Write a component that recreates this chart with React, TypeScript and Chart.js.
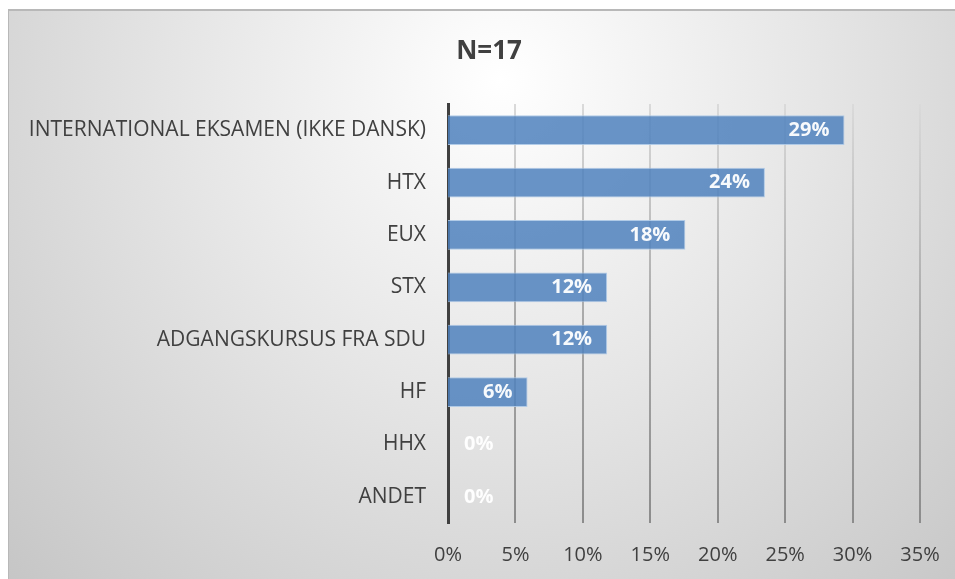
import React, { useEffect, useRef } from "react";
import { Chart, registerables } from "chart.js";

Chart.register(...registerables);

const categories = [
  "INTERNATIONAL EKSAMEN (IKKE DANSK)",
  "HTX",
  "EUX",
  "STX",
  "ADGANGSKURSUS FRA SDU",
  "HF",
  "HHX",
  "ANDET",
];
const values = [0.294, 0.235, 0.176, 0.118, 0.118, 0.059, 0, 0];
const valueLabels = ["29%", "24%", "18%", "12%", "12%", "6%", "0%", "0%"];
const titleText = "N=17";
const FONT = "'Open Sans', 'Noto Sans', sans-serif";

const labelPlugin = {
  id: "barLabels",
  afterDatasetsDraw(chart: any) {
    const ctx = chart.ctx;
    const meta = chart.getDatasetMeta(0);
    const base = chart.scales.x.getPixelForValue(0);
    ctx.save();
    ctx.font = `bold 20px ${FONT}`;
    ctx.textBaseline = "middle";
    ctx.textAlign = "left";
    meta.data.forEach((bar: any, i: number) => {
      const txt = valueLabels[i];
      const w = ctx.measureText(txt).width;
      let left = bar.x - 15 - w;
      if (left < base + 16) left = base + 16;
      ctx.fillStyle = "rgba(255,255,255,0.95)";
      ctx.fillText(txt, left, bar.y);
    });
    ctx.restore();
  },
};

const titlePlugin = {
  id: "customTitle",
  afterDraw(chart: any) {
    const ctx = chart.ctx;
    ctx.save();
    ctx.font = `bold 26px ${FONT}`;
    ctx.fillStyle = "#404040";
    ctx.textAlign = "center";
    ctx.textBaseline = "middle";
    ctx.fillText(titleText, chart.width * 0.5075, 41);
    ctx.restore();
  },
};

export default function App() {
  const ref = useRef<HTMLCanvasElement>(null);
  useEffect(() => {
    const canvas = ref.current!;
    const chart = new Chart(canvas, {
      type: "bar",
      data: {
        labels: categories,
        datasets: [
          {
            data: values,
            backgroundColor: "rgba(79,129,189,0.85)",
            borderColor: "rgba(170,198,230,0.9)",
            borderWidth: 1,
            categoryPercentage: 1,
            barPercentage: 0.57,
          },
        ],
      },
      options: {
        indexAxis: "y",
        responsive: false,
        animation: false,
        layout: { padding: { left: 0, right: 35, top: 93, bottom: 0 } },
        plugins: {
          legend: { display: false },
          tooltip: { enabled: false },
          title: { display: false },
        },
        scales: {
          x: {
            min: 0,
            max: 0.35,
            ticks: {
              stepSize: 0.05,
              color: "#404040",
              font: { family: FONT, size: 20 },
              padding: 20,
              callback: (v: any) => Math.round(Number(v) * 100) + "%",
            },
            grid: {
              drawTicks: false,
              lineWidth: (c: any) => (c.index === 0 ? 0 : 2),
              color: (c: any) => {
                const ch = c.chart;
                const area = ch.chartArea;
                if (!area) return "#aaa";
                const g = ch.ctx.createLinearGradient(0, area.top, 0, area.bottom);
                g.addColorStop(0, "#dadada");
                g.addColorStop(0.5, "#aaaaaa");
                g.addColorStop(1, "#8c8c8c");
                return g;
              },
            },
            border: { display: false },
            afterFit: (s: any) => {
              s.height = 56;
              s.paddingRight = 0;
              s.paddingLeft = 0;
            },
          },
          y: {
            ticks: {
              color: "#404040",
              font: { family: FONT, size: 21 },
              padding: 22,
            },
            grid: { display: false, drawTicks: false },
            border: { display: true, color: "#404040", width: 3 },
            afterFit: (s: any) => {
              s.width = 439;
            },
          },
        },
      },
      plugins: [labelPlugin, titlePlugin],
    });
    return () => chart.destroy();
  }, []);
  return (
    <div
      style={{
        position: "fixed",
        left: 8,
        top: 9,
        width: 947,
        height: 570,
        borderTop: "2px solid #b8b8b8",
        borderLeft: "1px solid #b8b8b8",
        boxSizing: "border-box",
        background:
          "radial-gradient(ellipse farthest-corner at 52% 12%, #ffffff 0%, #e6e6e6 45%, #c6c6c6 100%)",
      }}
    >
      <canvas ref={ref} width={946} height={568} style={{ display: "block" }} />
    </div>
  );
}
